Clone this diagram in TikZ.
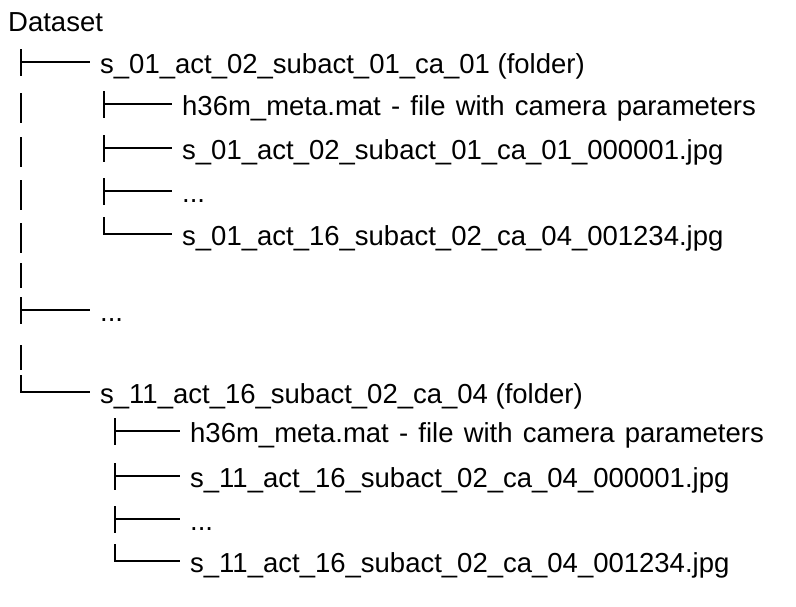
\documentclass[tikz,border=0pt]{standalone}
\usepackage{fontspec}
\setmainfont{Liberation Sans}
\begin{document}
\begin{tikzpicture}[x=1pt,y=-1pt,
  txt/.style={anchor=base west, inner sep=0pt, text height=20pt, text depth=6pt,
              font=\fontsize{27.5}{33}\selectfont, text=black},
  widetxt/.style={txt, execute at begin node={\spaceskip=10.2pt\relax}},
  tree/.style={line width=1.8pt, draw=black}]
\useasboundingbox (0,0) rectangle (796,606);
% column positions of the tree lines
\coordinate (L1) at (21,0);
\coordinate (L2a) at (104,0);
\coordinate (L2b) at (115,0);
% texts
\node[txt] (root) at (8,31) {Dataset};
\node[txt] (f1)  at (100,73)  {s\_01\_act\_02\_subact\_01\_ca\_01 (folder)};
\node[widetxt] (f1a) at (182,115) {h36m\_meta.mat - file with camera parameters};
\node[txt] (f1b) at (182,159) {s\_01\_act\_02\_subact\_01\_ca\_01\_000001.jpg};
\node[txt] (f1c) at (182,202) {...};
\node[txt] (f1d) at (182,245) {s\_01\_act\_16\_subact\_02\_ca\_04\_001234.jpg};
\node[txt] (dots) at (100,321) {...};
\node[txt] (f2)  at (100,403) {s\_11\_act\_16\_subact\_02\_ca\_04 (folder)};
\node[widetxt] (f2a) at (190,442) {h36m\_meta.mat - file with camera parameters};
\node[txt] (f2b) at (190,487) {s\_11\_act\_16\_subact\_02\_ca\_04\_000001.jpg};
\node[txt] (f2c) at (190,530) {...};
\node[txt] (f2d) at (190,572) {s\_11\_act\_16\_subact\_02\_ca\_04\_001234.jpg};
% connector ends (just left of each text, at mid x-height)
\foreach \n in {f1,f1a,f1b,f1c,f1d,dots,f2,f2a,f2b,f2c,f2d}
  \coordinate (\n-h) at ([xshift=-10pt,yshift=4pt]\n.west);
% tees
\foreach \n/\c in {f1/L1, dots/L1, f1a/L2a, f1b/L2a, f1c/L2a, f2a/L2b, f2b/L2b, f2c/L2b}{
  \draw[tree] (\n-h -| \c) ++(0,-13) -- ++(0,27);
  \draw[tree] (\n-h -| \c) -- (\n-h);
}
% corners
\foreach \n/\c in {f1d/L2a, f2/L1, f2d/L2b}
  \draw[tree] (\n-h -| \c) ++(0,-17) |- (\n-h);
% vertical bars of the outer level
\foreach \n in {f1a,f1b,f1c,f1d}
  \draw[tree] (L1 |- \n.base) ++(0,-22) -- ++(0,30);
\coordinate (gapA) at (21,263);
\coordinate (gapB) at (21,345);
\draw[tree] (gapA) -- ++(0,25);
\draw[tree] (gapB) -- ++(0,25);
\end{tikzpicture}
\end{document}
